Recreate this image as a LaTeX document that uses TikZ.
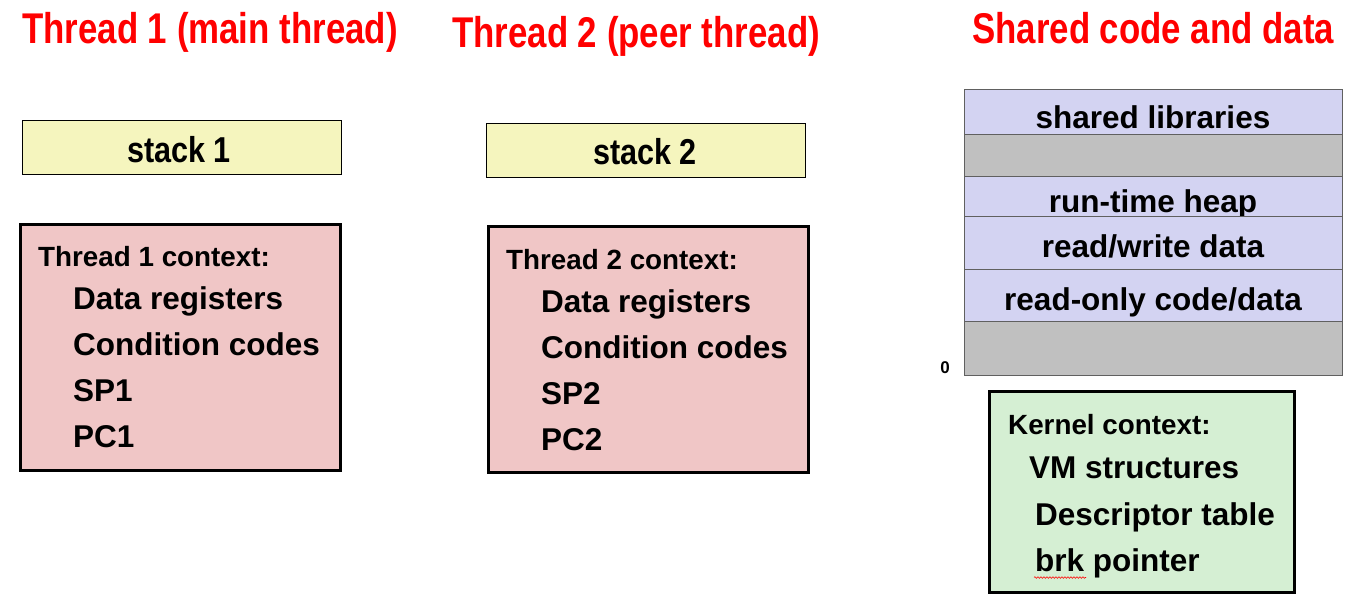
\documentclass[tikz,border=0pt]{standalone}
\usepackage{fontspec}
\setmainfont{Liberation Sans}
\usetikzlibrary{decorations.pathmorphing}
\definecolor{titlered}{HTML}{FF0000}
\definecolor{stackfill}{HTML}{F5F5BE}
\definecolor{ctxfill}{HTML}{F0C6C6}
\definecolor{memfill}{HTML}{D3D3F2}
\definecolor{gapfill}{HTML}{C0C0C0}
\definecolor{kernfill}{HTML}{D5EFD3}
\definecolor{memline}{HTML}{606060}
\newcommand\hsq[2]{\scalebox{#1}[1]{#2}}
\begin{document}
\begin{tikzpicture}[x=1pt,y=-1pt,
  titletext/.style={text=titlered, inner sep=0, anchor=base west, font=\bfseries\fontsize{43}{48}\selectfont},
  bodytext/.style={inner sep=0, anchor=base west, font=\bfseries\fontsize{31.5}{36}\selectfont},
  headtext/.style={inner sep=0, anchor=base west, font=\bfseries\fontsize{27.8}{32}\selectfont},
  memtext/.style={inner sep=0, anchor=base, font=\bfseries\fontsize{31.5}{36}\selectfont},
  stacktext/.style={inner sep=0, anchor=base, font=\bfseries\fontsize{36}{40}\selectfont},
  stackbox/.style={draw=black, line width=0.9pt, fill=stackfill, inner sep=0, minimum width=319pt, minimum height=54pt},
  ctxbox/.style={draw=black, line width=3pt, fill=ctxfill, inner sep=0, minimum width=320pt, minimum height=246pt},
  kernbox/.style={draw=black, line width=3pt, fill=kernfill, inner sep=0, minimum width=305pt, minimum height=201pt},
  memrow/.style={draw=memline, line width=0.9pt, inner sep=0, minimum width=378pt},
]
\useasboundingbox (0,0) rectangle (1357,614);

% titles
\node[titletext] (t1) at (22,43) {\hsq{0.81}{Thread 1 (main thread)}};
\node[titletext] (t2) at (452,47) {\hsq{0.81}{Thread 2 (peer thread)}};
\node[titletext] (t3) at (972,43) {\hsq{0.81}{Shared code and data}};

% stacks
\node[stackbox] (s1) at (181.5,147) {};
\node[stacktext] (s1t) at (179,162) {\hsq{0.85}{stack 1}};
\node[stackbox] (s2) at (646,150.5) {};
\node[stacktext] (s2t) at (645,164) {\hsq{0.85}{stack 2}};

% thread 1 context
\node[ctxbox] (c1) at (180.5,347) {};
\node[headtext] (c1h) at (38,266) {Thread 1 context:};
\node[bodytext] (c1a) at (73,309) {Data registers};
\node[bodytext] (c1b) at (73,355) {Condition codes};
\node[bodytext] (c1c) at (73,401) {SP1};
\node[bodytext] (c1d) at (73,447) {PC1};

% thread 2 context
\node[ctxbox] (c2) at (648.5,349) {};
\node[headtext] (c2h) at (506,269) {Thread 2 context:};
\node[bodytext] (c2a) at (541,312) {Data registers};
\node[bodytext] (c2b) at (541,358) {Condition codes};
\node[bodytext] (c2c) at (541,404) {SP2};
\node[bodytext] (c2d) at (541,450) {PC2};

% shared memory
\node[memrow, fill=memfill, minimum height=45pt] (m1) at (1153,111.5) {};
\node[memtext] (m1t) at (1153,128) {shared libraries};
\node[memrow, fill=gapfill, minimum height=42pt] (m2) at (1153,155) {};
\node[memrow, fill=memfill, minimum height=40pt] (m3) at (1153,196) {};
\node[memtext] (m3t) at (1153,212) {run-time heap};
\node[memrow, fill=memfill, minimum height=53pt] (m4) at (1153,242.5) {};
\node[memtext] (m4t) at (1153,257) {read/write data};
\node[memrow, fill=memfill, minimum height=52pt] (m5) at (1153,295) {};
\node[memtext] (m5t) at (1153,310) {read-only code/data};
\node[memrow, fill=gapfill, minimum height=54pt] (m6) at (1153,348) {};
\node[inner sep=0, font=\bfseries\fontsize{17}{20}\selectfont] (zero) at (945,368) {0};

% kernel context
\node[kernbox] (k) at (1142,491.5) {};
\node[headtext] (kh) at (1008,434) {Kernel context:};
\node[bodytext] (ka) at (1029,478) {VM structures};
\node[bodytext] (kb) at (1035,525) {Descriptor table};
\node[bodytext] (kc) at (1035,571) {brk pointer};
\coordinate (sq1) at (1034,577.5);
\coordinate (sq2) at (1086,577.5);
\draw[red, line width=0.6pt, decorate, decoration={snake, amplitude=0.8pt, segment length=3pt}] (sq1) -- (sq2);
\end{tikzpicture}
\end{document}
